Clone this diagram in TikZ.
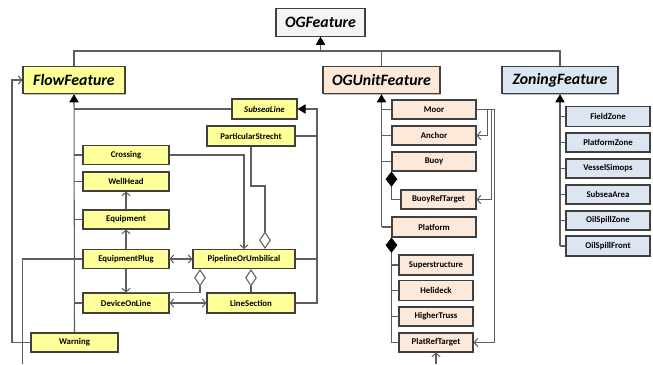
\documentclass[tikz,border=0pt]{standalone}
\usepackage{fontspec}
\setmainfont{Carlito}
\usetikzlibrary{arrows.meta,positioning,calc,shadows}
\definecolor{flowfill}{HTML}{FFFF99}
\definecolor{unitfill}{HTML}{FDE9D9}
\definecolor{zonefill}{HTML}{DCE6F2}
\definecolor{basefill}{HTML}{F4F4F4}
\definecolor{wire}{HTML}{5E5E5E}

\begin{document}
\begin{tikzpicture}[x=0.03cm,y=-0.03cm,
  cls/.style={draw=black!75,line width=0.9pt,inner sep=1pt,minimum height=0.57cm,
    font=\fontsize{7.5}{8.5}\selectfont\bfseries,
    drop shadow={shadow xshift=0.8pt,shadow yshift=-0.8pt,fill=black!45,opacity=0.6}},
  head/.style={cls,minimum height=0.82cm,font=\fontsize{13.5}{15}\selectfont\bfseries\itshape},
  flowbox/.style={cls,fill=flowfill},
  unitbox/.style={cls,fill=unitfill},
  zonebox/.style={cls,fill=zonefill},
  link/.style={draw=wire,line width=0.9pt},
  gen/.style={link,-{Triangle[width=8pt,length=7pt,color=black]}},
  assoc/.style={link,-{Straight Barb[length=3pt,width=7pt]}},
  bidir/.style={link,{Straight Barb[length=3pt,width=7pt]}-{Straight Barb[length=3pt,width=7pt]}},
  aggr/.style={link,{Diamond[length=15pt,width=10pt,fill=white]}-},
  comp/.style={link,{Diamond[length=13pt,width=10pt,color=black]}-}]
  \useasboundingbox (0,0) rectangle (653,364);

  % top level classes
  \node[head,fill=basefill,minimum width=2.67cm] (og) at (320.5,22.5) {OGFeature};
  \node[head,fill=flowfill,minimum width=3.06cm] (flow) at (74,80) {FlowFeature};
  \node[head,fill=unitfill,minimum width=3.51cm] (ogunit) at (381.5,80) {OGUnitFeature};
  \node[head,fill=zonefill,minimum width=3.48cm] (zoning) at (560,80) {ZoningFeature};

  % flow features
  \node[flowbox,minimum width=1.95cm,minimum height=0.6cm,
        font=\fontsize{7.5}{8.5}\selectfont\bfseries\itshape] (subsea) at (264.5,109) {SubseaLine};
  \node[flowbox,minimum width=2.64cm,minimum height=0.6cm] (partic) at (251,136) {ParticularStrecht};
  \node[flowbox,minimum width=2.58cm] (crossing) at (126,155) {Crossing};
  \node[flowbox,minimum width=2.58cm] (wellhead) at (126,181.5) {WellHead};
  \node[flowbox,minimum width=2.58cm] (equipment) at (126,219.5) {Equipment};
  \node[flowbox,minimum width=2.58cm] (eqplug) at (126,259) {EquipmentPlug};
  \node[flowbox,minimum width=2.58cm,minimum height=0.6cm] (device) at (126,303) {DeviceOnLine};
  \node[flowbox,minimum width=2.61cm] (warning) at (74.5,342.5) {Warning};
  \node[flowbox,minimum width=3.06cm] (pipeline) at (244,259) {PipelineOrUmbilical};
  \node[flowbox,minimum width=2.64cm,minimum height=0.6cm] (linesec) at (251,303) {LineSection};

  % unit features
  \node[unitbox,minimum width=2.52cm] (moor) at (434,109.5) {Moor};
  \node[unitbox,minimum width=2.52cm] (anchor) at (434,135.5) {Anchor};
  \node[unitbox,minimum width=2.52cm] (buoy) at (434,161.5) {Buoy};
  \node[unitbox,minimum width=2.25cm] (buoyref) at (438.5,199.5) {BuoyRefTarget};
  \node[unitbox,minimum width=2.52cm,minimum height=0.6cm] (platform) at (434,227) {Platform};
  \node[unitbox,minimum width=2.22cm,minimum height=0.6cm] (superstr) at (436,265) {Superstructure};
  \node[unitbox,minimum width=2.22cm,minimum height=0.6cm] (helideck) at (436,290.5) {Helideck};
  \node[unitbox,minimum width=2.22cm] (higher) at (436,316.5) {HigherTruss};
  \node[unitbox,minimum width=2.22cm] (platref) at (436,342.5) {PlatRefTarget};

  % zoning features
  \node[zonebox,minimum width=2.52cm,minimum height=0.6cm] (fieldzone) at (608,116.5) {FieldZone};
  \node[zonebox,minimum width=2.52cm] (platzone) at (608,142.5) {PlatformZone};
  \node[zonebox,minimum width=2.52cm] (vessel) at (608,168.5) {VesselSimops};
  \node[zonebox,minimum width=2.52cm] (subseaarea) at (608,194.5) {SubseaArea};
  \node[zonebox,minimum width=2.52cm] (oilzone) at (608,220.5) {OilSpillZone};
  \node[zonebox,minimum width=2.52cm,minimum height=0.6cm] (oilfront) at (608,246) {OilSpillFront};

  \coordinate (ogjoin) at (320.5,51);
  \coordinate (subjoin) at (317,109);
  \coordinate (warnbend) at (12,80);
  \coordinate (plugout) at (22.5,364);
  \coordinate (platin) at (436,364);

  % generalisation
  \draw[link] (flow.north) |- (ogjoin) -| (zoning.north);
  \draw[link] (ogunit.north) -- (ogunit.north |- ogjoin);
  \draw[gen] (ogjoin) -- (og.south);

  \draw[gen] (warning.north) -- (flow.south);
  \foreach \n in {subsea,crossing,wellhead,equipment,device}
    \draw[link] (\n.west) -- (\n.west -| flow.south);
  \draw[gen] (linesec.east) -| (subjoin) -- (subsea.east);
  \draw[link] (pipeline.east) -- (pipeline.east -| subjoin);
  \draw[link] (partic.east) -- (partic.east -| subjoin);

  \draw[gen] (platform.west -| ogunit.south) -- (ogunit.south);
  \foreach \n in {moor,anchor,buoy,platform}
    \draw[link] (\n.west) -- (\n.west -| ogunit.south);

  \draw[gen] (oilfront.west -| zoning.south) -- (zoning.south);
  \foreach \n in {fieldzone,platzone,vessel,subseaarea,oilzone,oilfront}
    \draw[link] (\n.west) -- (\n.west -| zoning.south);

  % associations
  \draw[assoc] (warning.west) -| (warnbend) -- (flow.west);
  \draw[link] (eqplug.west) -| (plugout);
  \draw[assoc] (crossing.east) -| (pipeline.north);
  \draw[assoc] (equipment.north) -- (wellhead.south);
  \draw[assoc] (eqplug.north) -- (equipment.south);
  \draw[assoc] (eqplug.south) -- (device.north);
  \draw[bidir] (eqplug.east) -- (pipeline.west);
  \draw[bidir] (device.east) -- (linesec.west);
  \draw[assoc] (moor.east) -- ++(11,0) |- (anchor.east);
  \draw[assoc] (moor.east) -- ++(15,0) |- (buoyref.east);
  \draw[assoc] (moor.east) -- ++(18,0) |- (platref.east);
  \draw[assoc] (platin) -- (platref.south);

  % aggregation and composition
  \draw[aggr] ([xshift=0.63cm]pipeline.north) -- ++(0,-63) -| (partic.south);
  \draw[aggr] ([xshift=-1.32cm]pipeline.south) |- (device.north);
  \draw[aggr] (linesec.north |- pipeline.south) -- (linesec.north);
  \draw[comp] (buoy.south west) |- (buoyref.west);
  \draw[comp] (platform.south west) |- (platref.west);
  \foreach \n in {superstr,helideck,higher}
    \draw[link] (\n.west) -- (\n.west -| platform.south west);
\end{tikzpicture}
\end{document}
